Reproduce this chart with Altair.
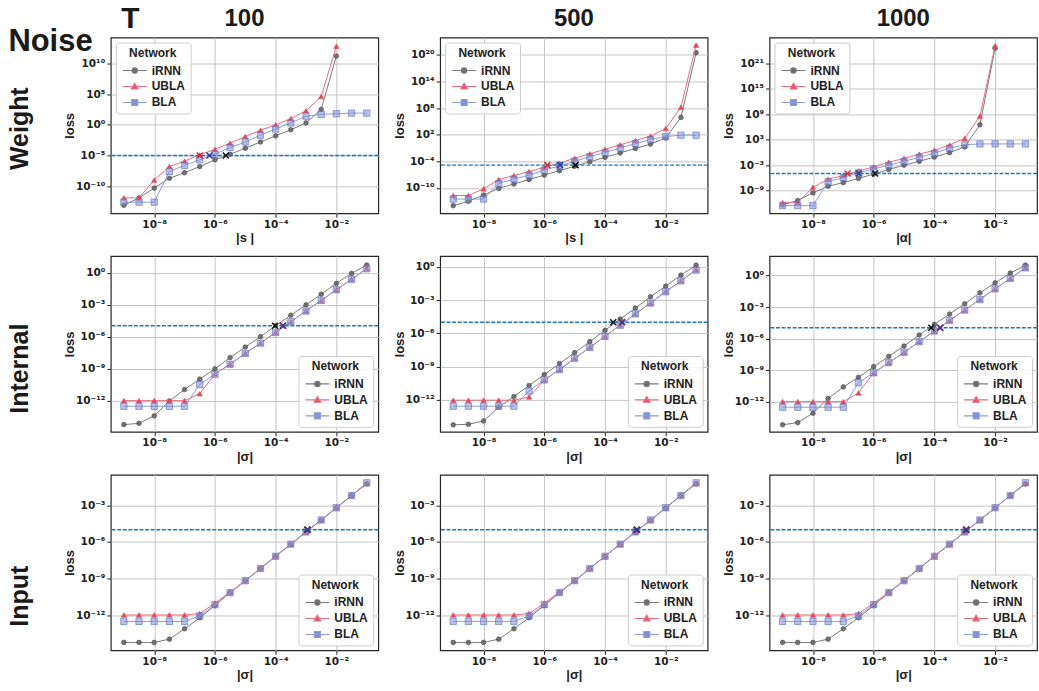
import altair as alt
import pandas as pd

NETS = ["iRNN", "UBLA", "BLA"]
SIGMA = [1e-9, 3.16e-9, 1e-8, 3.16e-8, 1e-7, 3.16e-7, 1e-6, 3.16e-6, 1e-5,
         3.16e-5, 1e-4, 3.16e-4, 1e-3, 3.16e-3, 1e-2, 3.16e-2, 1e-1]

# log10(loss)
W100_IRNN = [-13.1, -11.9, -10.3, -8.7, -7.8, -6.8, -5.7, -4.8, -3.8, -2.8, -1.8, -0.8, 0.3, 2.5, 11.2]
W100_UBLA = [-11.9, -11.9, -9.0, -6.8, -5.9, -4.9, -4.0, -3.0, -1.9, -0.9, 0.0, 1.0, 2.3, 4.6, 12.8]
W100_BLA = [-12.6, -12.6, -12.6, -7.6, -6.6, -5.7, -4.8, -3.7, -2.8, -1.7, -0.7, 0.3, 1.4, 1.7, 1.8, 1.9, 1.9]

W500_IRNN = [-14.0, -13.0, -11.6, -10.1, -9.1, -8.1, -7.1, -6.1, -5.1, -4.1, -3.1, -2.1, -1.1, -0.1, 1.25, 5.9, 20.5]
W500_UBLA = [-11.7, -11.7, -10.2, -8.1, -7.2, -6.3, -5.35, -4.4, -3.3, -2.3, -1.3, -0.25, 0.7, 1.7, 3.4, 8.2, 22.2]
W500_BLA = [-12.5, -12.5, -12.5, -9.0, -8.0, -7.1, -6.0, -5.0, -4.0, -2.95, -2.0, -1.0, 0.0, 0.9, 1.6, 1.9, 1.9]

W1000_IRNN = [-12.3, -11.3, -9.5, -7.95, -7.1, -6.1, -5.1, -4.0, -3.0, -2.1, -1.1, -0.05, 1.3, 6.5, 24.5]
W1000_UBLA = [-11.8, -11.8, -8.2, -6.3, -5.45, -4.35, -3.4, -2.3, -1.4, -0.4, 0.5, 1.75, 3.3, 8.5, 25.1]
W1000_BLA = [-12.5, -12.5, -12.5, -6.9, -5.9, -4.8, -3.9, -3.0, -2.1, -1.15, -0.2, 1.0, 1.8, 2.0, 2.0, 2.0, 2.0]

I100_IRNN = [-14.27, -14.15, -13.45, -12.05, -10.97, -10.0, -9.03, -7.97, -6.98, -6.01, -4.98, -3.99, -3.02, -2.02, -1.0, -0.06, 0.72]
I100_UBLA = [-12.02, -12.02, -12.02, -12.02, -12.02, -11.37, -9.5, -8.6, -7.57, -6.6, -5.6, -4.6, -3.58, -2.6, -1.6, -0.6, 0.4]
I100_BLA = [-12.55, -12.55, -12.55, -12.55, -12.55, -10.5, -9.53, -8.6, -7.6, -6.62, -5.62, -4.6, -3.6, -2.6, -1.6, -0.62, 0.38]

I500_IRNN = [-14.25, -14.2, -13.9, -12.66, -11.7, -10.7, -9.72, -8.73, -7.74, -6.75, -5.73, -4.71, -3.72, -2.7, -1.74, -0.75, 0.15]
I500_UBLA = [-12.03, -12.03, -12.03, -12.03, -12.03, -11.73, -10.2, -9.27, -8.25, -7.26, -6.27, -5.25, -4.23, -3.27, -2.22, -1.26, -0.27]
I500_BLA = [-12.57, -12.57, -12.57, -12.57, -12.57, -11.2, -10.2, -9.27, -8.27, -7.27, -6.27, -5.27, -4.25, -3.27, -2.25, -1.27, -0.3]

I1000_IRNN = [-14.2, -13.99, -13.1, -11.7, -10.6, -9.68, -8.67, -7.69, -6.71, -5.66, -4.65, -3.67, -2.69, -1.65, -0.7, 0.22, 0.98]
I1000_UBLA = [-12.0, -12.0, -12.0, -12.0, -12.0, -11.17, -9.27, -8.29, -7.31, -6.3, -5.28, -4.27, -3.29, -2.28, -1.27, -0.28, 0.73]
I1000_BLA = [-12.53, -12.53, -12.53, -12.53, -12.53, -10.2, -9.25, -8.29, -7.31, -6.3, -5.28, -4.27, -3.29, -2.28, -1.27, -0.28, 0.73]

IN_IRNN = [-14.22, -14.22, -14.22, -13.95, -13.1, -12.2, -11.2, -10.15, -9.18, -8.18, -7.17, -6.2, -5.2, -4.22, -3.22, -2.2, -1.24]
IN_UBLA = [-11.97, -11.97, -11.97, -11.97, -11.97, -11.86, -11.0, -10.1, -9.15, -8.15, -7.15, -6.17, -5.17, -4.2, -3.2, -2.2, -1.2]
IN_BLA = [-12.5, -12.5, -12.5, -12.5, -12.5, -12.05, -11.13, -10.15, -9.17, -8.17, -7.17, -6.18, -5.18, -4.2, -3.2, -2.2, -1.16]

# threshold (log10) and crossing points (log10 of |noise|) for iRNN, UBLA, BLA
THRESH = [-5.0, -4.85, -4.96, -4.98, -5.0, -4.97, -5.0, -5.0, -5.0]
CROSS = [[-5.64, -6.5, -6.18], [-4.97, -5.9, -5.48], [-5.95, -6.86, -6.49],
         [-4.02, -3.77, -3.75], [-3.73, -3.45, -3.43], [-4.1, -3.82, -3.8],
         [-2.96, -2.95, -2.94], [-2.96, -2.95, -2.94], [-2.96, -2.95, -2.94]]

YDOM = [(-14.4, 14.2), (-15.7, 23.9), (-14.3, 27.0),
        (-14.95, 1.56), (-14.88, 0.96), (-14.87, 1.84),
        (-14.87, -0.5), (-14.87, -0.5), (-14.87, -0.5)]
YTICKS = [[-10, -5, 0, 5, 10], [-10, -4, 2, 8, 14, 20], [-9, -3, 3, 9, 15, 21],
          [-12, -9, -6, -3, 0], [-12, -9, -6, -3, 0], [-12, -9, -6, -3, 0],
          [-12, -9, -6, -3], [-12, -9, -6, -3], [-12, -9, -6, -3]]
XTICKS = [-8, -6, -4, -2]
XDOM = (-9.43, -0.62)
XTITLES = ["|s |", "|s |", "|α|", "|σ|", "|σ|", "|σ|", "|σ|", "|σ|", "|σ|"]
COLS = ["100", "500", "1000"]
ROWS = ["Weight", "Internal", "Input"]
ROW_SHIFT = [-3, -9, -18]
SERIES = [(W100_IRNN, W100_UBLA, W100_BLA), (W500_IRNN, W500_UBLA, W500_BLA),
          (W1000_IRNN, W1000_UBLA, W1000_BLA), (I100_IRNN, I100_UBLA, I100_BLA),
          (I500_IRNN, I500_UBLA, I500_BLA), (I1000_IRNN, I1000_UBLA, I1000_BLA),
          (IN_IRNN, IN_UBLA, IN_BLA), (IN_IRNN, IN_UBLA, IN_BLA), (IN_IRNN, IN_UBLA, IN_BLA)]

LINE_COL = ["#7a7a7a", "#ec6a80", "#8e9cda"]
FILL_COL = ["#666666", "#e8485e", "#7f8fd6"]
EDGE_COL = ["#4a4a4a", "#e8485e", "#5a6cc0"]
CROSS_COL = ["#111111", "#d8283c", "#2c3c9c"]
SHAPES = ["circle", "triangle-up", "square"]
SIZES = [22, 28, 40]
FILL_OP = [0.9, 1.0, 0.55]
LEG_PATHS = [
    "M-2,0H2M0.45,0A0.45,0.45 0 1,1 -0.45,0A0.45,0.45 0 1,1 0.45,0Z",
    "M-2,0H2M0,-0.55L0.55,0.4L-0.55,0.4Z",
    "M-2,0H2M-0.5,-0.5H0.5V0.5H-0.5Z",
]
X_PATH = "M-1,-1L1,1M-1,1L1,-1"

W, H = 268, 176
FONT = "DejaVu Sans"
TFONT = "Liberation Sans"


def sup_expr():
    s = "toString(round(log(datum.value)/LN10))"
    for a, b in [("-", "⁻"), ("0", "⁰"), ("1", "¹"), ("2", "²"), ("3", "³"), ("4", "⁴"),
                 ("5", "⁵"), ("6", "⁶"), ("7", "⁷"), ("8", "⁸"), ("9", "⁹")]:
        s = f"replace({s}, '{a}', '{b}')"
    return "'10' + " + s


LBL = sup_expr()


def axis(title, values, **kw):
    return alt.Axis(values=values, labelExpr=LBL, title=title,
                    grid=True, gridColor="#c4c4c4", gridWidth=1, tickSize=4,
                    tickColor="#222", domain=False, labelFontSize=10.5, labelFont=FONT,
                    labelFontWeight="bold", labelColor="#222", labelPadding=2,
                    titleFont=TFONT, titleFontSize=13, titleFontWeight="bold",
                    titleColor="#222", labelFlush=False, **kw)


def panel(i):
    ir, ub, bl = SERIES[i]
    lo, hi = YDOM[i]
    xenc = alt.X("x:Q",
                 scale=alt.Scale(type="log", domain=[10 ** XDOM[0], 10 ** XDOM[1]], nice=False),
                 axis=axis(XTITLES[i], [10.0 ** e for e in XTICKS], titlePadding=2))
    yenc = alt.Y("loss:Q",
                 scale=alt.Scale(type="log", domain=[10 ** lo, 10 ** hi], nice=False),
                 axis=axis("loss", [10.0 ** e for e in YTICKS[i]], titlePadding=4,
                           minExtent=30, maxExtent=30))
    layers = []
    for k, vals in enumerate((ir, ub, bl)):
        d = pd.DataFrame({"x": SIGMA[:len(vals)], "loss": [10.0 ** v for v in vals]})
        base = alt.Chart(d)
        layers.append(base.mark_line(color=LINE_COL[k], strokeWidth=1).encode(x=xenc, y=yenc))
        layers.append(base.mark_point(shape=SHAPES[k], size=SIZES[k], filled=True,
                                      fill=FILL_COL[k], stroke=EDGE_COL[k], strokeWidth=0.6,
                                      opacity=1, fillOpacity=FILL_OP[k]).encode(x=xenc, y=yenc))
    thr = pd.DataFrame({"loss": [10.0 ** THRESH[i]]})
    layers.append(alt.Chart(thr).mark_rule(color="#1f77b4", strokeWidth=1.3,
                                           strokeDash=[4, 1.6]).encode(y=yenc))
    cr = pd.DataFrame({"x": [10.0 ** v for v in CROSS[i]],
                       "loss": [10.0 ** THRESH[i]] * 3, "net": NETS})
    layers.append(alt.Chart(cr).mark_point(shape=X_PATH, size=36, filled=False, strokeWidth=1.5,
                                           opacity=1).encode(
        x=xenc, y=yenc,
        color=alt.Color("net:N", scale=alt.Scale(domain=NETS, range=CROSS_COL), legend=None)))
    orient = "top-left" if i < 3 else "bottom-right"
    leg = alt.Legend(title="Network", orient=orient)
    legdf = pd.DataFrame({"net": NETS})
    layers.append(alt.Chart(legdf).transform_filter("false").mark_point(opacity=1, filled=True).encode(
        fill=alt.Fill("net:N", scale=alt.Scale(domain=NETS, range=FILL_COL), legend=leg),
        stroke=alt.Stroke("net:N", scale=alt.Scale(domain=NETS, range=LINE_COL), legend=leg),
        shape=alt.Shape("net:N", scale=alt.Scale(domain=NETS, range=LEG_PATHS), legend=leg),
    ))
    ch = alt.layer(*layers).properties(width=W, height=H)
    if i < 3:
        ch = ch.properties(title=alt.TitleParams(COLS[i], fontSize=24, fontWeight="bold",
                                                 font=TFONT, anchor="middle", offset=7,
                                                 color="#1a1a1a"))
    return ch


IND = dict(fill="independent", stroke="independent", shape="independent")

rows = []
for r in range(3):
    row = alt.hconcat(*[panel(3 * r + c) for c in range(3)], spacing=12)
    row = row.resolve_scale(**IND).resolve_legend(**IND)
    row = row.properties(title=alt.TitleParams(ROWS[r], orient="left", anchor="middle",
                                               fontSize=25, fontWeight="bold", font=TFONT,
                                               offset=30, dx=ROW_SHIFT[r], color="#1a1a1a"))
    rows.append(row)

grid = alt.vconcat(*rows, spacing=9).resolve_scale(**IND).resolve_legend(**IND)
wrapT = alt.vconcat(grid).resolve_scale(**IND).resolve_legend(**IND).properties(
    title=alt.TitleParams("T", anchor="start", frame="bounds", fontSize=30, fontWeight="bold",
                          font=TFONT, offset=0, dx=113, dy=28, color="#1a1a1a"))
chart = alt.vconcat(wrapT).resolve_scale(**IND).resolve_legend(**IND).properties(
    title=alt.TitleParams("Noise", anchor="start", frame="bounds", fontSize=31, fontWeight="bold",
                          font=TFONT, offset=0, dx=0, dy=54, color="#1a1a1a"),
    padding={"left": 8, "top": 3, "right": 0, "bottom": 0},
)

chart = chart.configure(font=TFONT).configure_view(stroke="#262626", strokeWidth=1.2).configure_legend(
    padding=5, offset=5, fillColor="rgba(255,255,255,0.85)", strokeColor="#cccccc",
    cornerRadius=3, titleFontSize=12, titleFontWeight="bold", titleAnchor="middle",
    labelFontSize=12, labelFontWeight="bold", titleColor="#222", labelColor="#222",
    titleFont=TFONT, labelFont=TFONT,
    symbolSize=144, symbolStrokeWidth=1.1, symbolOffset=7, labelOffset=10, rowPadding=3,
    titlePadding=4)

chart.save("out.html", embed_options={"renderer": "svg", "actions": False})
